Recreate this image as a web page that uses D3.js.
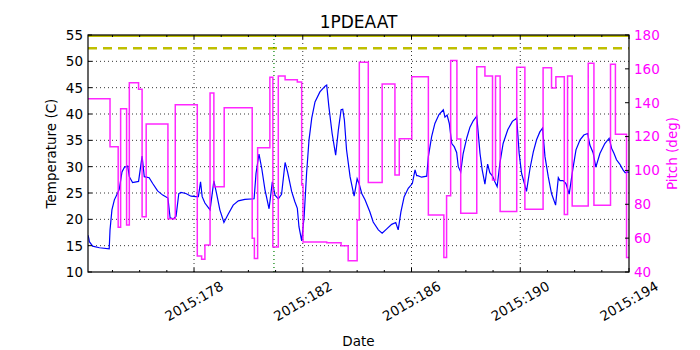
<!DOCTYPE html>
<html><head><meta charset="utf-8">
<script src="https://cdn.jsdelivr.net/npm/d3@7"></script>
<style>body{margin:0;background:#fff}svg{display:block;font-family:"DejaVu Sans",sans-serif}</style>
</head><body><svg id="c" width="700" height="350"></svg>
<script>
const title = "1PDEAAT";
const xDomain = [174.10, 194.0];
const xMajorTicks = [178, 182, 186, 190, 194];
const xTickLabels = ["2015:178", "2015:182", "2015:186", "2015:190", "2015:194"];
const xMinorTicks = d3.range(175, 195);
const tempTicks = [10, 15, 20, 25, 30, 35, 40, 45, 50, 55];
const pitchTicks = [40, 60, 80, 100, 120, 140, 160, 180];
const planningLimit = 52.5;
const upperLimit = 55;
const nowDay = 180.94;

const tempDays = [174.10,174.13,174.15,174.27,174.52,174.88,174.91,174.98,175.07,175.19,175.25,175.35,175.44,175.56,175.62,175.74,175.96,176.09,176.17,176.35,176.48,176.66,176.85,177.04,177.12,177.24,177.34,177.44,177.52,177.70,177.89,178.07,178.16,178.24,178.30,178.40,178.59,178.73,178.83,178.95,179.10,179.26,179.44,179.63,179.87,180.21,180.28,180.39,180.49,180.61,180.76,180.88,180.98,181.10,181.22,181.35,181.44,181.59,181.71,181.80,181.86,181.96,182.05,182.14,182.23,182.33,182.45,182.63,182.82,182.88,182.96,183.08,183.21,183.31,183.41,183.47,183.53,183.61,183.74,183.84,183.89,184.00,184.07,184.17,184.29,184.47,184.59,184.78,184.92,185.09,185.27,185.42,185.51,185.61,185.73,185.88,186.03,186.13,186.19,186.23,186.37,186.56,186.62,186.74,186.86,187.01,187.17,187.23,187.31,187.39,187.48,187.57,187.66,187.72,187.81,187.90,188.03,188.15,188.27,188.40,188.52,188.60,188.70,188.80,188.88,188.98,189.07,189.15,189.25,189.37,189.54,189.71,189.87,189.96,190.05,190.23,190.36,190.48,190.60,190.72,190.82,190.91,191.03,191.15,191.30,191.40,191.46,191.58,191.68,191.80,191.93,192.05,192.20,192.34,192.48,192.56,192.68,192.78,192.93,193.11,193.27,193.36,193.45,193.54,193.66,193.78,193.86,193.94,194.0];
const tempValues = [17.0,16.4,15.75,14.9,14.6,14.4,18.0,21.8,23.7,25.0,25.7,29.0,29.9,30.1,28.1,27.0,27.2,32.0,28.1,27.9,26.8,25.4,24.6,24.05,20.3,20.1,20.6,24.9,25.1,24.9,24.4,24.3,24.3,27.1,24.3,23.1,21.8,27.3,24.9,21.8,19.4,21.0,22.7,23.5,23.8,23.9,28.7,32.4,29.7,25.6,22.0,27.1,24.6,23.9,24.75,30.8,29.0,25.3,23.35,22.1,18.6,15.9,20.5,28.7,35.1,39.2,42.3,44.2,45.3,45.5,41.4,36.3,32.2,37.0,40.8,40.9,38.9,33.2,28.1,25.6,24.4,27.7,26.8,24.9,23.7,21.4,19.5,18.0,17.35,18.2,19.05,19.4,18.0,21.4,24.3,25.9,26.8,29.4,28.3,28.3,28.0,28.2,31.9,35.7,38.2,39.9,40.8,39.4,39.8,38.2,34.4,33.8,32.7,30.0,29.0,32.5,35.4,37.5,38.7,39.6,32.5,29.4,26.7,30.5,28.85,28.2,27.1,26.2,30.6,34.4,37.0,38.6,39.2,32.5,28.7,25.3,29.7,32.8,35.1,36.6,37.3,31.9,28.1,24.9,22.7,27.9,27.35,27.35,26.8,24.8,29.4,33.2,35.1,36.0,36.3,34.1,32.65,29.9,32.5,34.4,35.4,33.5,32.5,31.3,30.5,29.4,28.85,29.0,28.9];

const pitchDays = [174.10,174.91,175.21,175.30,175.52,175.62,175.96,176.09,176.24,177.04,177.31,178.12,178.28,178.40,178.59,178.73,179.11,180.14,180.22,180.34,180.79,180.90,181.10,181.35,181.80,181.96,182.01,182.88,183.41,183.67,184.00,184.08,184.41,184.92,185.39,185.55,186.01,186.62,187.19,187.29,187.44,187.67,187.81,188.40,188.70,188.98,189.09,189.26,189.87,190.17,190.84,191.15,191.31,191.62,191.74,191.91,192.50,192.71,193.32,193.50,193.91,194.0];
const pitchValues = [142.4,114,66.4,136.5,67.8,151.8,148,72.7,127.4,71.5,138.8,49.5,47.5,56,145.7,90.4,137,60,48,113.4,155,54.8,155.8,153.6,152.2,91.4,57.7,57.3,55.5,46.7,70.7,163.9,92.8,151,97.3,118.7,155.4,73.7,48.5,85,165,118.6,74.7,161.3,155.8,94.3,155.8,75.7,160.9,77,160.7,148.7,155.4,74,155.8,79,163.3,79.4,162.7,121.3,48.5,48.5];

const svg = d3.select("#c");
const L = 88, R = 629, T = 35, B = 272;
const x = d3.scaleLinear().domain(xDomain).range([L, R]);
const yT = d3.scaleLinear().domain([10, 55]).range([B, T]);
const yP = d3.scaleLinear().domain([40, 180]).range([B, T]);

svg.append("defs").append("clipPath").attr("id", "clip")
  .append("rect").attr("x", L).attr("y", T).attr("width", R - L).attr("height", B - T);

// grid
const grid = svg.append("g").attr("stroke", "#000").attr("stroke-width", 0.8).attr("stroke-dasharray", "1,3");
tempTicks.filter(v => v > 10 && v < 55).forEach(v => {
  grid.append("line").attr("x1", L).attr("x2", R).attr("y1", yT(v)).attr("y2", yT(v));
});
xMajorTicks.filter(v => v < 194).forEach(v => {
  grid.append("line").attr("x1", x(v)).attr("x2", x(v)).attr("y1", T).attr("y2", B);
});

const plot = svg.append("g").attr("clip-path", "url(#clip)");
// limits
plot.append("line").attr("x1", L).attr("x2", R).attr("y1", yT(upperLimit) + 1).attr("y2", yT(upperLimit) + 1)
  .attr("stroke", "#bfbf00").attr("stroke-width", 2);
plot.append("line").attr("x1", L).attr("x2", R).attr("y1", yT(planningLimit)).attr("y2", yT(planningLimit))
  .attr("stroke", "#bfbf00").attr("stroke-width", 2.5).attr("stroke-dasharray", "9,6");

// temperature
const tData = tempDays.map((d, i) => [d, tempValues[i]]);
plot.append("path").datum(tData)
  .attr("d", d3.line().x(d => x(d[0])).y(d => yT(d[1])))
  .attr("fill", "none").attr("stroke", "#0000ff").attr("stroke-width", 1.2);

// now line
plot.append("line").attr("x1", x(nowDay)).attr("x2", x(nowDay)).attr("y1", T).attr("y2", B)
  .attr("stroke", "#008000").attr("stroke-width", 1.2).attr("stroke-dasharray", "1,3");

// pitch
const pData = pitchDays.map((d, i) => [d, pitchValues[i]]);
plot.append("path").datum(pData)
  .attr("d", d3.line().curve(d3.curveStepAfter).x(d => x(d[0])).y(d => yP(d[1])))
  .attr("fill", "none").attr("stroke", "#ff00ff").attr("stroke-width", 1.5).attr("stroke-opacity", 0.85);

// frame
svg.append("rect").attr("x", L).attr("y", T).attr("width", R - L).attr("height", B - T)
  .attr("fill", "none").attr("stroke", "#000").attr("stroke-width", 1.2);

// ticks
const tk = svg.append("g").attr("stroke", "#000").attr("stroke-width", 1);
tempTicks.forEach(v => tk.append("line").attr("x1", L).attr("x2", L + 4).attr("y1", yT(v)).attr("y2", yT(v)));
pitchTicks.forEach(v => tk.append("line").attr("x1", R).attr("x2", R - 4).attr("y1", yP(v)).attr("y2", yP(v)));
xMajorTicks.forEach(v => {
  tk.append("line").attr("x1", x(v)).attr("x2", x(v)).attr("y1", B).attr("y2", B - 4);
  tk.append("line").attr("x1", x(v)).attr("x2", x(v)).attr("y1", T).attr("y2", T + 4);
});
xMinorTicks.filter(v => !xMajorTicks.includes(v)).forEach(v => {
  tk.append("line").attr("x1", x(v)).attr("x2", x(v)).attr("y1", B).attr("y2", B - 2);
  tk.append("line").attr("x1", x(v)).attr("x2", x(v)).attr("y1", T).attr("y2", T + 2);
});

// labels
const fs = 13.5;
tempTicks.forEach(v => svg.append("text").attr("x", L - 5).attr("y", yT(v)).attr("dy", "0.36em")
  .attr("text-anchor", "end").attr("font-size", fs).text(v));
pitchTicks.forEach(v => svg.append("text").attr("x", R + 5).attr("y", yP(v)).attr("dy", "0.36em")
  .attr("text-anchor", "start").attr("font-size", fs).attr("fill", "#ff00ff").text(v));
xMajorTicks.forEach((v, i) => svg.append("text")
  .attr("transform", `translate(${x(v)},${301}) rotate(-30)`)
  .attr("text-anchor", "middle").attr("dy", "0.36em").attr("font-size", fs).text(xTickLabels[i]));

svg.append("text").attr("x", (L + R) / 2).attr("y", 28).attr("text-anchor", "middle").attr("font-size", 17).text(title);
svg.append("text").attr("x", (L + R) / 2).attr("y", 341).attr("dy", "0.36em").attr("text-anchor", "middle").attr("font-size", fs).text("Date");
svg.append("text").attr("transform", `translate(51,${(T + B) / 2}) rotate(-90)`).attr("dy", "0.36em")
  .attr("text-anchor", "middle").attr("font-size", fs).text("Temperature (C)");
svg.append("text").attr("transform", `translate(672,${(T + B) / 2}) rotate(-90)`).attr("dy", "0.36em")
  .attr("text-anchor", "middle").attr("font-size", fs).attr("fill", "#ff00ff").text("Pitch (deg)");
</script></body></html>
